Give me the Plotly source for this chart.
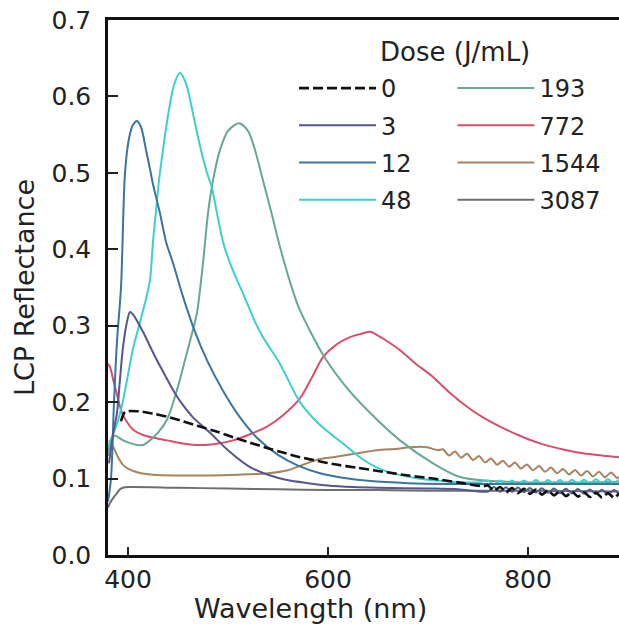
import plotly.graph_objects as go

# Reflectance spectra (LCP) for each irradiation dose
doses = ["0", "3", "12", "48", "193", "772", "1544", "3087"]
colors = ["#111111", "#55558f", "#3c74a0", "#3cd0cc",
          "#66a892", "#d84f6b", "#a5845e", "#6e6e6e"]

wl_0 = [393, 397, 410, 425, 439, 455, 472, 490, 505, 522, 539, 555, 572, 590,
        605, 630, 655, 680, 705, 730, 755,
        760, 766, 772, 778, 784, 790, 796, 802, 808, 814, 820, 826, 832, 838,
        844, 850, 856, 862, 868, 874, 880, 886, 891]
r_0 = [0.175, 0.187, 0.188, 0.185, 0.181, 0.175, 0.168, 0.161, 0.154, 0.147,
       0.140, 0.134, 0.128, 0.123, 0.119, 0.114, 0.109, 0.104, 0.100, 0.095,
       0.090,
       0.091, 0.084, 0.089, 0.082, 0.0875, 0.081, 0.0865, 0.080, 0.0855, 0.079,
       0.0845, 0.078, 0.0835, 0.077, 0.0827, 0.0764, 0.0821, 0.0758, 0.0815,
       0.0752, 0.081, 0.0748, 0.0806]

wl_3 = [381, 383, 386, 389, 392, 395, 399, 402, 406, 415, 425, 435, 445, 455,
        465, 482, 500, 522, 540, 559, 580, 600, 625, 650, 700, 730,
        760, 766, 772, 778, 784, 790, 796, 802, 808, 814, 820, 826, 832, 838,
        844, 850, 856, 862, 868, 874, 880, 886, 891]
r_3 = [0.120, 0.140, 0.165, 0.186, 0.230, 0.272, 0.305, 0.318, 0.313, 0.292,
       0.265, 0.240, 0.216, 0.196, 0.180, 0.160, 0.137, 0.115, 0.105, 0.098,
       0.094, 0.091, 0.089, 0.088, 0.087, 0.086,
       0.083, 0.089, 0.0828, 0.0886, 0.0826, 0.0882, 0.0822, 0.0878, 0.0818,
       0.0874, 0.0814, 0.087, 0.081, 0.0866, 0.0806, 0.0862, 0.0802, 0.0858,
       0.0798, 0.0854, 0.0794, 0.085, 0.0792]

wl_12 = [380, 383, 386, 389, 393, 397, 401, 405, 409, 413, 418, 422, 425, 432,
         438, 445, 455, 467, 480, 495, 512, 530, 550, 570, 592, 620,
         640, 680, 720, 780, 840, 891]
r_12 = [0.070, 0.100, 0.200, 0.280, 0.350, 0.500, 0.545, 0.563, 0.568, 0.560,
        0.530, 0.505, 0.485, 0.447, 0.410, 0.382, 0.338, 0.292, 0.252, 0.215,
        0.180, 0.152, 0.131, 0.117, 0.107, 0.100, 0.097, 0.094,
        0.093, 0.093, 0.093, 0.093]

wl_48 = [380, 384, 387, 393, 399, 405, 412, 418, 422, 425, 428, 431, 435, 440,
         446, 452, 458, 463, 467, 473, 479, 484, 489, 495, 502, 510, 519, 527,
         535, 552, 572, 592, 615, 635, 655, 690, 722, 750,
         760, 766, 772, 778, 784, 790, 796, 802, 808, 814, 820, 826, 832, 838,
         844, 850, 856, 862, 868, 874, 880, 886, 891]
r_48 = [0.140, 0.155, 0.164, 0.190, 0.229, 0.270, 0.305, 0.335, 0.360, 0.410,
        0.450, 0.490, 0.530, 0.575, 0.615, 0.631, 0.617, 0.590, 0.565, 0.530,
        0.500, 0.480, 0.447, 0.410, 0.382, 0.357, 0.330, 0.305, 0.285, 0.250,
        0.200, 0.170, 0.146, 0.125, 0.111, 0.100, 0.096, 0.095,
        0.0975, 0.0925, 0.0975, 0.0925, 0.0975, 0.0925, 0.0975, 0.0925, 0.098,
        0.093, 0.098, 0.093, 0.098, 0.093, 0.0985, 0.0935, 0.0985, 0.0935,
        0.099, 0.094, 0.099, 0.094, 0.099]

wl_193 = [380, 383, 387, 395, 403, 409, 415, 422, 430, 439, 449, 458, 464, 469,
          475, 480, 485, 492, 500, 511, 520, 527, 535, 544, 552, 565, 572, 595,
          615, 639, 672, 705, 732, 760, 800, 850, 891]
r_193 = [0.130, 0.150, 0.156, 0.150, 0.146, 0.144, 0.144, 0.150, 0.160, 0.177,
         0.216, 0.260, 0.290, 0.317, 0.382, 0.447, 0.490, 0.530, 0.555, 0.565,
         0.555, 0.530, 0.490, 0.445, 0.403, 0.345, 0.320, 0.262, 0.225, 0.190,
         0.150, 0.120, 0.102, 0.097, 0.095, 0.095, 0.096]

wl_772 = [380, 382, 386, 389, 392, 395, 400, 405, 415, 427, 439, 455, 472, 490,
          505, 522, 539, 555, 572, 585, 595, 608, 622, 632, 642, 650, 660, 672,
          688, 705, 722, 739, 755, 772, 790, 812, 835, 855, 875, 891]
r_772 = [0.250, 0.246, 0.225, 0.210, 0.194, 0.183, 0.172, 0.164, 0.157, 0.153,
         0.150, 0.146, 0.144, 0.146, 0.150, 0.158, 0.168, 0.183, 0.205, 0.235,
         0.259, 0.275, 0.285, 0.289, 0.292, 0.287, 0.279, 0.268, 0.250, 0.233,
         0.212, 0.194, 0.180, 0.168, 0.157, 0.146, 0.138, 0.133, 0.130, 0.128]

wl_1544 = [381, 385, 390, 395, 400, 410, 425, 450, 480, 510, 540, 560, 575,
           590, 605, 625, 649, 670, 682, 699, 710,
           715, 721, 727, 733, 739, 745, 751, 757, 763, 769, 775, 781, 787,
           793, 799, 805, 811, 817, 823, 829, 835, 841, 847, 853, 859, 865,
           871, 877, 883, 889, 891]
r_1544 = [0.150, 0.142, 0.128, 0.118, 0.113, 0.108, 0.105, 0.104, 0.104, 0.105,
          0.107, 0.111, 0.118, 0.125, 0.128, 0.132, 0.137, 0.139, 0.141, 0.141,
          0.137,
          0.1383, 0.1303, 0.1355, 0.1274, 0.1325, 0.1244, 0.1294, 0.1212,
          0.1262, 0.1180, 0.1233, 0.1155, 0.1209, 0.1131, 0.1185, 0.1109,
          0.1165, 0.1089, 0.1145, 0.1069, 0.1126, 0.1054, 0.1113, 0.1040,
          0.1100, 0.1027, 0.1088, 0.1017, 0.1079, 0.1009, 0.1025]

wl_3087 = [380, 382, 386, 389, 392, 395, 400, 450, 500, 550, 600, 650, 700,
           800, 891]
r_3087 = [0.062, 0.068, 0.076, 0.081, 0.086, 0.088, 0.089, 0.088, 0.087,
          0.086, 0.085, 0.085, 0.084, 0.084, 0.083]

series = {
    "0": (wl_0, r_0), "3": (wl_3, r_3), "12": (wl_12, r_12),
    "48": (wl_48, r_48), "193": (wl_193, r_193), "772": (wl_772, r_772),
    "1544": (wl_1544, r_1544), "3087": (wl_3087, r_3087),
}

FONT = "DejaVu Sans"
INK = "#222222"
fig = go.Figure()

# draw the high doses first so the low-dose curves sit on top
for dose in reversed(doses):
    i = doses.index(dose)
    wl, r = series[dose]
    fig.add_trace(go.Scatter(
        x=wl, y=r, mode="lines", name=dose,
        line=dict(color=colors[i], width=2.6 if dose == "0" else 2,
                  dash="10px,4px" if dose == "0" else "solid",
                  shape="spline", smoothing=0.8),
        legend="legend" if i < 4 else "legend2",
        legendgroup=dose, legendrank=i,
    ))

leg_common = dict(
    yanchor="top", xanchor="left", bgcolor="rgba(0,0,0,0)",
    font=dict(family=FONT, size=24, color=INK),
    traceorder="grouped", tracegroupgap=3, itemwidth=77,
)

fig.update_layout(
    width=619, height=637,
    margin=dict(l=108, r=0, t=20, b=82),
    paper_bgcolor="white", plot_bgcolor="white",
    font=dict(family=FONT, size=24, color=INK),
    showlegend=True,
    legend=dict(x=0.364, y=0.914, **leg_common),
    legend2=dict(x=0.674, y=0.914, **leg_common),
    xaxis=dict(
        range=[380, 891], tickvals=[400, 600, 800],
        ticks="inside", ticklen=8, tickwidth=1.5, tickcolor=INK,
        showline=True, linecolor="#111111", linewidth=2.5, mirror=True,
        showgrid=False, zeroline=False,
        tickfont=dict(family=FONT, size=25, color=INK),
    ),
    yaxis=dict(
        range=[0, 0.7], tickvals=[0, 0.1, 0.2, 0.3, 0.4, 0.5, 0.6, 0.7],
        tickformat=".1f",
        ticks="inside", ticklen=10, tickwidth=1.5, tickcolor=INK,
        showline=True, linecolor="#111111", linewidth=2.5, mirror=False,
        showgrid=False, zeroline=False,
        tickfont=dict(family=FONT, size=25, color=INK),
        ticklabelstandoff=9,
        title=dict(text="LCP Reflectance", standoff=10,
                   font=dict(family=FONT, size=27, color=INK)),
    ),
    annotations=[
        dict(text="Wavelength (nm)", x=0.397, y=-0.1, xref="paper",
             yref="paper", xanchor="center", yanchor="middle",
             showarrow=False,
             font=dict(family=FONT, size=27, color=INK)),
        dict(text="Dose (J/mL)", x=0.679, y=0.94, xref="paper",
             yref="paper", xanchor="center", yanchor="middle",
             showarrow=False,
             font=dict(family=FONT, size=26, color=INK)),
    ],
)

fig.write_html("out.html")
